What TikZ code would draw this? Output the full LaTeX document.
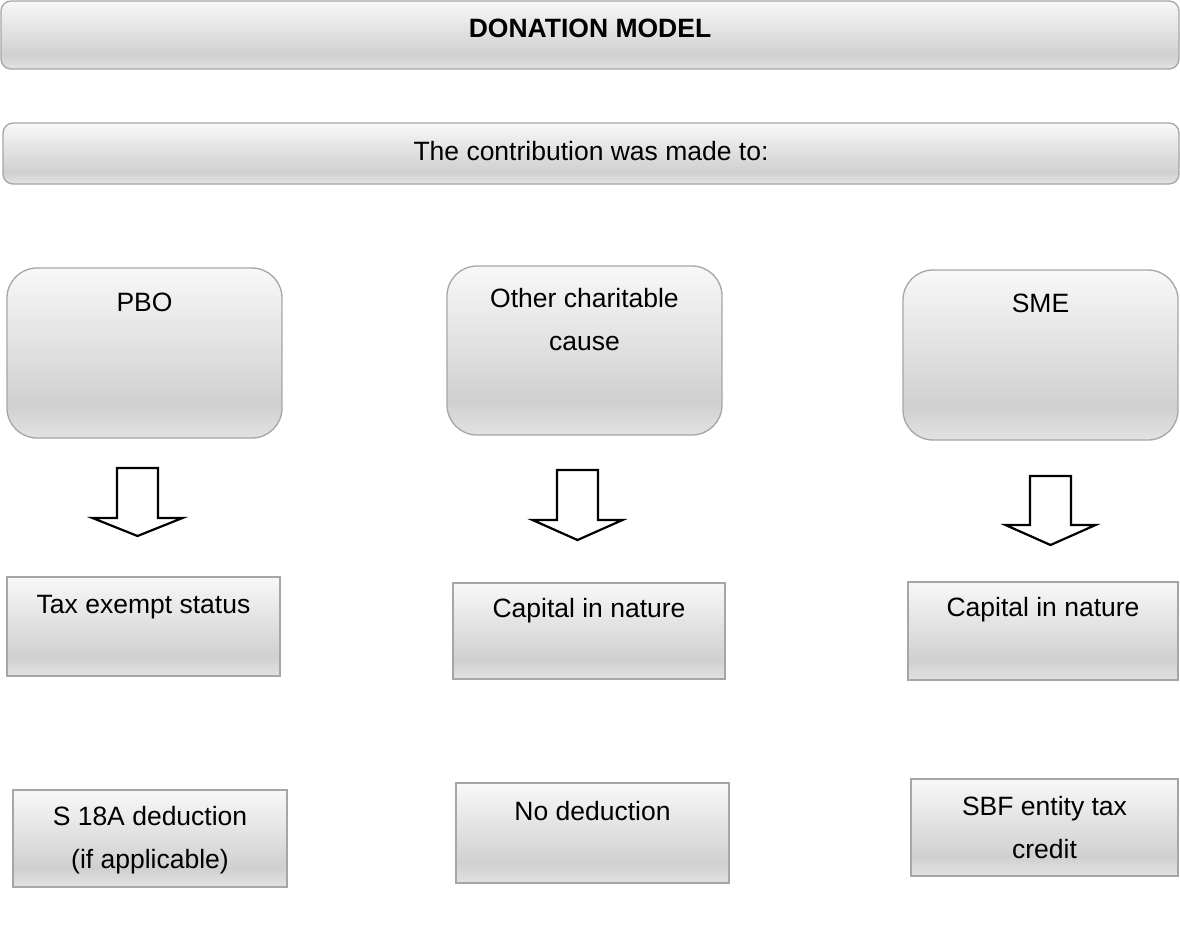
\documentclass[tikz,border=0pt]{standalone}
\usepackage{fontspec}
\setmainfont{Liberation Sans}
\usetikzlibrary{positioning}

\definecolor{gTop}{HTML}{F8F8F8}
\definecolor{gDark}{HTML}{D0D0D0}
\definecolor{gBot}{HTML}{E2E2E2}
\definecolor{edge}{HTML}{A6A6A6}

% glossy grey fill: light at the top, darkest near the bottom, lighter again at the edge
\pgfdeclareverticalshading{boxgloss}{100bp}{color(0bp)=(gBot); color(25bp)=(gBot); color(35bp)=(gDark); color(75bp)=(gTop); color(100bp)=(gTop)}

\newcommand{\mainsize}{\fontsize{26.5}{43}\selectfont}
\newcommand{\twoline}[2]{{\setlength{\tabcolsep}{0pt}\begin{tabular}[t]{c}#1\\#2\end{tabular}}}

% hollow downward block arrow: centre x, shaft top, head base, tip
\newcommand{\blockarrow}[4]{%
  \draw[arrowline] (#1-20.5,#2) -- (#1+20.5,#2) -- (#1+20.5,#3) -- (#1+45,#3)
    -- (#1,#4) -- (#1-45,#3) -- (#1-20.5,#3) -- cycle;}

\tikzset{
  panel/.style={draw=edge, line width=1.3pt, shading=boxgloss, inner sep=0pt, outer sep=0pt},
  banner/.style={panel, rounded corners=10pt},
  choice/.style={panel, rounded corners=30pt, minimum width=275pt, minimum height=170pt},
  result/.style={panel, minimum height=98pt},
  caption/.style={anchor=base, font=\mainsize, inner sep=0pt, align=center},
  arrowline/.style={draw=black, line width=2.2pt, fill=white, line join=miter},
}

\begin{document}
\begin{tikzpicture}[x=1pt, y=-1pt]
\useasboundingbox (0,0) rectangle (1180,945);

% headings
\node[banner, minimum width=1178pt, minimum height=68pt,
  label={[caption, yshift=-36pt, font=\mainsize\bfseries]north:DONATION MODEL}] (title) at (590,35) {};
\node[banner, minimum width=1176pt, minimum height=61pt,
  label={[caption, yshift=-37pt]north:The contribution was made to:}] (intro) at (591,153.5) {};

% recipients
\node[choice, label={[caption, yshift=-43pt]north:PBO}] (pbo) at (144.5,353) {};
\node[choice, minimum height=169pt,
  label={[caption, yshift=-41pt]north:\twoline{Other charitable}{cause}}] (other) at (584.5,350.5) {};
\node[choice, label={[caption, yshift=-42pt]north:SME}] (sme) at (1040.5,355) {};

% tax treatment of the contribution
\node[result, minimum width=273pt, minimum height=99pt,
  label={[caption, yshift=-36pt]north:Tax exempt status}] (exempt) at (143.5,626.5) {};
\node[result, minimum width=272pt, minimum height=96pt,
  label={[caption, yshift=-34pt]north:Capital in nature}] (capmid) at (589,631) {};
\node[result, minimum width=270pt,
  label={[caption, yshift=-34pt]north:Capital in nature}] (capright) at (1043,631) {};

% resulting relief
\node[result, minimum width=274pt, minimum height=97pt,
  label={[caption, yshift=-35pt]north:\twoline{S 18A deduction}{(if applicable)}}] (s18a) at (150,838.5) {};
\node[result, minimum width=273pt, minimum height=100pt,
  label={[caption, yshift=-37pt]north:No deduction}] (nodeduct) at (592.5,833) {};
\node[result, minimum width=267pt, minimum height=97pt,
  label={[caption, yshift=-36pt]north:\twoline{SBF entity tax}{credit}}] (sbf) at (1044.5,827.5) {};

% block arrows from each recipient to its tax treatment
\blockarrow{137.5}{468}{518}{536}
\blockarrow{577.5}{470}{520}{540}
\blockarrow{1050.5}{476}{525}{545}
\end{tikzpicture}
\end{document}
